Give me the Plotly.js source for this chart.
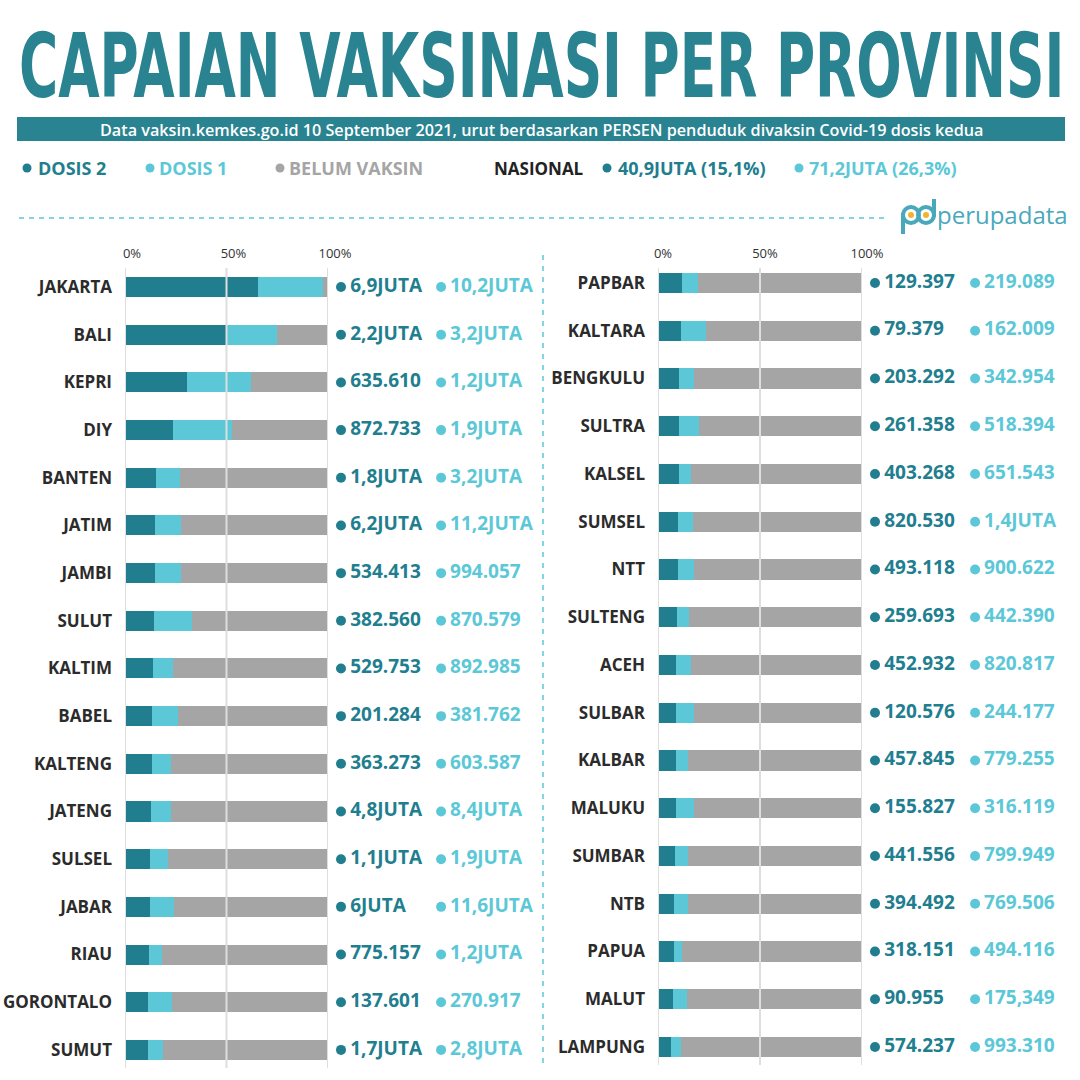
<!DOCTYPE html>
<html><head><meta charset="utf-8">
<script src="https://cdn.plot.ly/plotly-3.0.1.min.js"></script>
<style>html,body{margin:0;padding:0;background:#fff}</style>
</head><body><div id="chart" style="width:1080px;height:1080px"></div>
<script>
// ---------- DATA ----------
const provLeft = ['JAKARTA','BALI','KEPRI','DIY','BANTEN','JATIM','JAMBI','SULUT','KALTIM','BABEL','KALTENG','JATENG','SULSEL','JABAR','RIAU','GORONTALO','SUMUT'];
const dosis2PctLeft = [65.5,49.8,30.5,23.4,15.1,14.9,14.8,14.2,13.6,13.2,13.1,12.7,12.2,12.2,11.7,11.3,11.2];
const dosis1PctLeft = [97.5,75.1,62.0,52.6,26.9,27.6,27.8,32.9,23.4,26.3,22.6,22.9,21.3,24.0,18.1,23.1,18.6];
const dosis2LabelLeft = ['6,9JUTA','2,2JUTA','635.610','872.733','1,8JUTA','6,2JUTA','534.413','382.560','529.753','201.284','363.273','4,8JUTA','1,1JUTA','6JUTA','775.157','137.601','1,7JUTA'];
const dosis1LabelLeft = ['10,2JUTA','3,2JUTA','1,2JUTA','1,9JUTA','3,2JUTA','11,2JUTA','994.057','870.579','892.985','381.762','603.587','8,4JUTA','1,9JUTA','11,6JUTA','1,2JUTA','270.917','2,8JUTA'];

const provRight = ['PAPBAR','KALTARA','BENGKULU','SULTRA','KALSEL','SUMSEL','NTT','SULTENG','ACEH','SULBAR','KALBAR','MALUKU','SUMBAR','NTB','PAPUA','MALUT','LAMPUNG'];
const dosis2PctRight = [11.7,11.5,10.5,10.3,10.1,10.0,9.6,9.1,9.0,8.8,8.8,8.8,8.1,7.6,7.6,7.4,6.6];
const dosis1PctRight = [19.8,23.5,17.6,20.3,16.2,17.2,17.4,15.2,16.0,17.7,14.7,17.6,14.9,14.9,11.7,14.2,11.5];
const dosis2LabelRight = ['129.397','79.379','203.292','261.358','403.268','820.530','493.118','259.693','452.932','120.576','457.845','155.827','441.556','394.492','318.151','90.955','574.237'];
const dosis1LabelRight = ['219.089','162.009','342.954','518.394','651.543','1,4JUTA','900.622','442.390','820.817','244.177','779.255','316.119','799.949','769.506','494.116','175,349','993.310'];

const tickVals = [0, 50, 100];
const tickText = ['0%', '50%', '100%'];
const legendNames = ['DOSIS 2', 'DOSIS 1', 'BELUM VAKSIN'];
const nasionalLabel = 'NASIONAL';
const nasionalDosis2 = '40,9JUTA (15,1%)';
const nasionalDosis1 = '71,2JUTA (26,3%)';
const titleText = 'CAPAIAN VAKSINASI PER PROVINSI';
const subtitleText = 'Data vaksin.kemkes.go.id 10 September 2021, urut berdasarkan PERSEN penduduk divaksin Covid-19 dosis kedua';
const brandText = 'perupadata';

// ---------- STYLE ----------
const C2 = '#217e8f', C1 = '#5cc8d7', CG = '#a5a5a5', CT = '#2a8391', CTXT = '#2b2b2b';
const FONT = 'Open Sans, Noto Sans, sans-serif';
const TITLE_FONT = 'DejaVu Sans Condensed';
const W = 1080;
const fx = p => p / W;
const fy = p => 1 - p / W;

// title sizing: natural width fits 1047px, then stretched vertically to the reference cap height
const TITLE_BASELINE = 97, TITLE_CAP = 65;
const cv = document.createElement('canvas').getContext('2d');
cv.font = '700 100px "' + TITLE_FONT + '"';
const natW = cv.measureText(titleText).width;
const TITLE_SIZE = Math.floor(100 * 1047 / natW * 10) / 10;
cv.font = '700 ' + TITLE_SIZE + 'px "' + TITLE_FONT + '"';
const capH = cv.measureText('H').actualBoundingBoxAscent || TITLE_SIZE * 0.729;
const TITLE_KY = TITLE_CAP / capH;

// label columns live on helper axes x3 / x4 (0..100 over 210px each)
const DOT2_X = 5.24, TXT2_X = 9.6, DOT1_X = 52.9, TXT1_X = 57.2;

function panel(prov, d2, d1, l2, l1, xa, ya, xl) {
  const mk = (x, col, name) => ({type: 'bar', orientation: 'h', y: prov, x: x, width: 0.42,
                  xaxis: xa, yaxis: ya, name: name, hoverinfo: 'skip', showlegend: false,
                  marker: {color: col, line: {width: 0}}});
  const b2 = mk(d2, C2, legendNames[0]);
  const b1 = mk(d1.map((v, i) => v - d2[i]), C1, legendNames[1]);
  const bg = mk(d1.map(v => 100 - v), CG, legendNames[2]);
  const dots = (xv, col) => ({
    type: 'scatter', mode: 'markers', x: prov.map(() => xv), y: prov, cliponaxis: false,
    xaxis: xl, yaxis: ya, marker: {size: 10, color: col}, hoverinfo: 'skip', showlegend: false
  });
  const lab = (xv, txt, col) => ({
    type: 'scatter', mode: 'text', x: prov.map(() => xv), y: prov, text: txt,
    textposition: 'middle right', cliponaxis: false, xaxis: xl, yaxis: ya,
    hoverinfo: 'skip', showlegend: false,
    textfont: {family: FONT, size: 19, color: col, weight: 700}
  });
  return [b2, b1, bg, dots(DOT2_X, C2), dots(DOT1_X, C1), lab(TXT2_X, l2, C2), lab(TXT1_X, l1, C1)];
}

const data = [].concat(
  panel(provLeft, dosis2PctLeft, dosis1PctLeft, dosis2LabelLeft, dosis1LabelLeft, 'x', 'y', 'x3'),
  panel(provRight, dosis2PctRight, dosis1PctRight, dosis2LabelRight, dosis1LabelRight, 'x2', 'y2', 'x4')
);

const xax = (dom, anchor, shift) => ({
  domain: dom, range: [0, 100], side: 'top', anchor: anchor, tickvals: tickVals, ticktext: tickText,
  showgrid: false, zeroline: false, showline: false, ticks: '', fixedrange: true,
  ticklabelshift: shift, ticklabelstandoff: 6,
  tickfont: {family: FONT, size: 13, color: '#333'}
});
const xhelp = (dom, anchor) => ({domain: dom, range: [0, 100], anchor: anchor, visible: false, fixedrange: true,
                                  showgrid: false, zeroline: false});
const yax = (dom, anchor, cats, rng) => ({
  domain: dom, range: rng, type: 'category', categoryorder: 'array', categoryarray: cats,
  anchor: anchor, showgrid: false, zeroline: false, showline: false, ticks: '', fixedrange: true,
  ticklabelstandoff: 12,
  tickfont: {family: FONT, size: 17, color: CTXT, weight: 700}
});

const shapes = [];
tickVals.forEach(v => {
  [['x', 'y'], ['x2', 'y2']].forEach(([xa, ya]) => {
    shapes.push({type: 'line', xref: xa, yref: ya + ' domain', x0: v, x1: v, y0: 0, y1: 1,
                 layer: 'above', line: {color: '#dedede', width: 2}});
  });
});
// subtitle band
shapes.push({type: 'rect', xref: 'paper', yref: 'paper', x0: fx(17), x1: fx(1065), y0: fy(141), y1: fy(117),
             fillcolor: CT, line: {width: 0}, layer: 'below'});
// dashed separators
shapes.push({type: 'line', xref: 'paper', yref: 'paper', x0: fx(19), x1: fx(886), y0: fy(218), y1: fy(218),
             line: {color: C1, width: 1.5, dash: '5px,5px'}});
shapes.push({type: 'line', xref: 'paper', yref: 'paper', x0: fx(543), x1: fx(543), y0: fy(255), y1: fy(1066),
             line: {color: C1, width: 1.5, dash: '5px,6px'}});
// legend dots
const dot = (cx, cy, r, col) => ({type: 'circle', xref: 'paper', yref: 'paper', x0: fx(cx - r), x1: fx(cx + r),
                                   y0: fy(cy + r), y1: fy(cy - r), fillcolor: col, line: {width: 0}});
shapes.push(dot(27, 168, 4.5, C2), dot(150, 168, 4.5, C1), dot(280, 168, 4.5, CG),
            dot(607, 168, 4.5, C2), dot(799, 168, 4.5, C1));
// logo mark
const LC = '#4aa8bb';
shapes.push({type: 'circle', xref: 'paper', yref: 'paper', x0: fx(903), x1: fx(919), y0: fy(223), y1: fy(207), line: {color: LC, width: 4}});
shapes.push({type: 'line', xref: 'paper', yref: 'paper', x0: fx(903), x1: fx(903), y0: fy(234), y1: fy(213), line: {color: LC, width: 4}});
shapes.push({type: 'circle', xref: 'paper', yref: 'paper', x0: fx(918), x1: fx(934), y0: fy(223), y1: fy(207), line: {color: LC, width: 4}});
shapes.push({type: 'line', xref: 'paper', yref: 'paper', x0: fx(934), x1: fx(934), y0: fy(217), y1: fy(199), line: {color: LC, width: 4}});
shapes.push(dot(911, 215, 3, '#f2b233'), dot(926, 215, 3, '#f2b233'));

const ann = (text, xpx, ypx, size, color, weight, anchor) => ({
  text: text, xref: 'paper', yref: 'paper', x: fx(xpx), y: fy(ypx), xanchor: anchor || 'left', yanchor: 'middle',
  showarrow: false, font: {family: FONT, size: size, color: color, weight: weight}
});
const annotations = [
  {text: titleText, xref: 'paper', yref: 'paper', x: fx(541.5), y: fy(66), xanchor: 'center', yanchor: 'middle',
   showarrow: false, font: {family: TITLE_FONT + ', sans-serif', size: TITLE_SIZE, color: CT, weight: 700}},
  ann(subtitleText, 541, 130, 16.2, '#ffffff', 600, 'center'),
  ann(legendNames[0], 36, 168, 18, C2, 700),
  ann(legendNames[1], 157, 168, 18, C1, 700),
  ann(legendNames[2], 287, 168, 18, CG, 700),
  ann(nasionalLabel, 492, 168, 17, '#222', 700),
  ann(nasionalDosis2, 616, 168, 18, C2, 700),
  ann(nasionalDosis1, 807, 168, 18, C1, 700),
  ann(brandText, 935, 214, 24, LC, 400)
];

const layout = {
  width: 1080, height: 1080, autosize: false,
  margin: {l: 0, r: 0, t: 0, b: 0},
  paper_bgcolor: '#ffffff', plot_bgcolor: 'rgba(0,0,0,0)',
  barmode: 'stack', showlegend: false,
  xaxis: xax([fx(125), fx(328)], 'y', 7),
  yaxis: yax([fy(1068), fy(268)], 'x', provLeft, [16.38, -0.40]),
  xaxis2: xax([fx(658), fx(862)], 'y2', 5),
  yaxis2: yax([fy(1065), fy(268)], 'x2', provRight, [16.377, -0.314]),
  xaxis3: xhelp([fx(330), fx(540)], 'y'),
  xaxis4: xhelp([fx(864), fx(1074)], 'y2'),
  shapes: shapes,
  annotations: annotations
};

Plotly.newPlot('chart', data, layout, {staticPlot: true, displayModeBar: false}).then(() => {
  const t = document.querySelector('.annotation[data-index="0"] text.annotation-text') ||
            document.querySelectorAll('.annotation text')[0];
  if (!t) return;
  const b = parseFloat(t.getAttribute('y')) || 0;
  const svg = t.ownerSVGElement;
  const pt = svg.createSVGPoint(); pt.x = 0; pt.y = b;
  const scr = pt.matrixTransform(t.getCTM());
  const dy = TITLE_BASELINE - scr.y;
  const prev = t.getAttribute('transform') || '';
  t.setAttribute('transform', prev + ' translate(0,' + dy + ') translate(0,' + b + ') scale(1,' + TITLE_KY + ') translate(0,' + (-b) + ')');
});
</script></body></html>
